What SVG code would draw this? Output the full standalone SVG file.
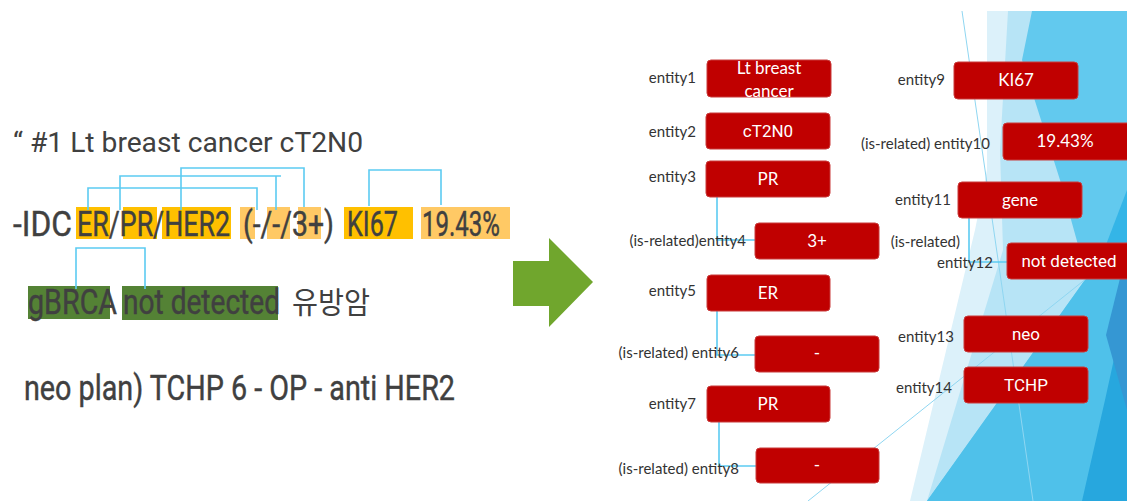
<svg xmlns="http://www.w3.org/2000/svg" width="1127" height="501" viewBox="0 0 1127 501">
  <defs>
    <style>
      .note { font-family: Roboto, "Liberation Sans", sans-serif; fill: #404040; }
      .big { font-size: 36px; stroke: #404040; stroke-width: 0.45; }
      .kr { font-family: "Noto Sans CJK KR", sans-serif; font-size: 30px; fill: #404040; }
      .hl-gold { fill: #ffc000; }
      .hl-pale { fill: #ffc965; }
      .hl-green { fill: #548235; }
      .brk { fill: none; stroke: #5ccbf2; stroke-width: 1.6; }
      .box { fill: #c00000; stroke: #c93a3a; stroke-width: 1; }
      .btxt { font-family: Lato, "Liberation Sans", sans-serif; font-size: 17px; fill: #ffffff; text-anchor: middle; }
      .btxt2 { font-family: Roboto, "Liberation Sans", sans-serif; font-size: 17px; fill: #ffffff; text-anchor: middle; }
      .lbl { font-family: Lato, "Liberation Sans", sans-serif; font-size: 15px; fill: #333333; text-anchor: end; }
      .conn { fill: none; stroke: #5ccbf2; stroke-width: 1.6; }
      .facet-line { fill: none; stroke: #8fd6f1; stroke-width: 1; }
    </style>
  </defs>

  <rect x="0" y="0" width="1127" height="501" fill="#ffffff"/>

  <!-- faceted blue backdrop on the right -->
  <g id="backdrop">
    <polygon points="987,11 1127,11 1127,501 910,501 975,230 987,170" fill="#dcf1fa"/>
    <polygon points="1008,11 1127,11 1127,501 927,501 1003,250 1000,150" fill="#b7e4f6"/>
    <polygon points="1032,11 1127,11 1127,501 927,501 1087,277 1060,180 1022,60" fill="#62c9ee"/>
    <polygon points="1127,221 1127,501 927,501 1087,277" fill="#4fc1ea"/>
    <polygon points="1127,190 1127,262 1104,250" fill="#34b5e7"/>
    <polygon points="1127,300 1127,501 1082,501 1105,400" fill="#27a7de"/>
    <polygon points="1127,250 1127,410 1106,335" fill="#3597d3"/>
    <line class="facet-line" x1="962" y1="11" x2="1033" y2="501"/>
    <line class="facet-line" x1="808" y1="501" x2="1087" y2="278"/>
  </g>

  <!-- clinical note text with highlighted spans -->
  <g id="note">
    <text class="note" x="13" y="152" font-size="28" textLength="350" lengthAdjust="spacingAndGlyphs">“ #1 Lt breast cancer cT2N0</text>

    <rect class="hl-gold" x="76" y="207" width="34" height="32"/>
    <rect class="hl-gold" x="123" y="207" width="34" height="32"/>
    <rect class="hl-gold" x="162" y="207" width="69" height="32"/>
    <rect class="hl-pale" x="240" y="207" width="15" height="32"/>
    <rect class="hl-pale" x="267" y="207" width="23" height="32"/>
    <rect class="hl-pale" x="298" y="207" width="23" height="32"/>
    <rect class="hl-gold" x="344" y="207" width="69" height="32"/>
    <rect class="hl-pale" x="421" y="207" width="89" height="32"/>

    <rect class="hl-green" x="28" y="286" width="82" height="33"/>
    <rect class="hl-green" x="122" y="286" width="156" height="34"/>

    <!-- narrow-set body lines -->
    <g transform="scale(0.8,1)">
      <text class="note big" y="236">
        <tspan x="16.25" textLength="73.75" lengthAdjust="spacingAndGlyphs">-IDC</tspan>
        <tspan x="96.25" textLength="191.25" lengthAdjust="spacingAndGlyphs">ER/PR/HER2</tspan>
        <tspan x="303.75" textLength="113.75" lengthAdjust="spacingAndGlyphs">(-/-/3+)</tspan>
        <tspan x="433.75" textLength="63.75" lengthAdjust="spacingAndGlyphs">KI67</tspan>
        <tspan x="527.5" textLength="97.5" lengthAdjust="spacingAndGlyphs">19.43%</tspan>
      </text>
      <text class="note big" y="314">
        <tspan x="35" textLength="111.25" lengthAdjust="spacingAndGlyphs">gBRCA</tspan>
        <tspan x="153.75" textLength="196.25" lengthAdjust="spacingAndGlyphs">not detected</tspan>
      </text>
      <text class="note big" x="30" y="400" textLength="538.75" lengthAdjust="spacingAndGlyphs">neo plan) TCHP 6 - OP - anti HER2</text>
    </g>
    <text class="kr" x="292" y="313" textLength="78" lengthAdjust="spacingAndGlyphs">유방암</text>

    <!-- relation brackets over the note -->
    <path class="brk" d="M88,210 V188 H257 V210"/>
    <path class="brk" d="M120,210 V176 H281 M276,176 V210"/>
    <path class="brk" d="M181,210 V168 H304 V207"/>
    <path class="brk" d="M369,206 V170 H441 V205"/>
    <path class="brk" d="M76,289 V248 H145 V289"/>
  </g>

  <!-- conversion arrow -->
  <polygon id="arrow" points="513,261 549,261 549,238 593,282 549,327 549,306 513,306" fill="#70a62d"/>

  <!-- connectors -->
  <g id="connectors">
    <path class="conn" d="M717,197 V240 H755"/>
    <path class="conn" d="M717,311 V355 H755"/>
    <path class="conn" d="M719,422 V466 H756"/>
    <path class="conn" d="M969,218 V262 H1007"/>
  </g>

  <!-- entity nodes -->
  <g id="entity1">
    <text class="lbl" x="696" y="83">entity1</text>
    <rect class="box" x="707" y="60" width="124" height="37" rx="4"/>
    <text class="btxt" x="769" y="74">Lt breast</text>
    <text class="btxt" x="769" y="97">cancer</text>
  </g>
  <g id="entity2">
    <text class="lbl" x="696" y="137">entity2</text>
    <rect class="box" x="706" y="113" width="124" height="36" rx="4"/>
    <text class="btxt2" x="768" y="137">cT2N0</text>
  </g>
  <g id="entity3">
    <text class="lbl" x="696" y="182">entity3</text>
    <rect class="box" x="706" y="161" width="124" height="36" rx="4"/>
    <text class="btxt" x="768" y="185">PR</text>
  </g>
  <g id="entity4">
    <text class="lbl" x="746" y="246">(is-related)entity4</text>
    <rect class="box" x="755" y="223" width="124" height="36" rx="4"/>
    <text class="btxt" x="817" y="247">3+</text>
  </g>
  <g id="entity5">
    <text class="lbl" x="696" y="296">entity5</text>
    <rect class="box" x="707" y="275" width="123" height="36" rx="4"/>
    <text class="btxt" x="768" y="299">ER</text>
  </g>
  <g id="entity6">
    <text class="lbl" x="739" y="358">(is-related) entity6</text>
    <rect class="box" x="755" y="336" width="124" height="36" rx="4"/>
    <text class="btxt" x="817" y="359">-</text>
  </g>
  <g id="entity7">
    <text class="lbl" x="696" y="409">entity7</text>
    <rect class="box" x="707" y="386" width="123" height="36" rx="4"/>
    <text class="btxt" x="768" y="410">PR</text>
  </g>
  <g id="entity8">
    <text class="lbl" x="739" y="474">(is-related)  entity8</text>
    <rect class="box" x="756" y="448" width="123" height="35" rx="4"/>
    <text class="btxt" x="817" y="471">-</text>
  </g>
  <g id="entity9">
    <text class="lbl" x="945" y="85">entity9</text>
    <rect class="box" x="954" y="62" width="124" height="37" rx="4"/>
    <text class="btxt" x="1016" y="86">KI67</text>
  </g>
  <g id="entity10">
    <text class="lbl" x="990" y="149">(is-related) entity10</text>
    <rect class="box" x="1003" y="123" width="128" height="37" rx="4"/>
    <text class="btxt" x="1065" y="147">19.43%</text>
  </g>
  <g id="entity11">
    <text class="lbl" x="951" y="205">entity11</text>
    <rect class="box" x="958" y="182" width="124" height="36" rx="4"/>
    <text class="btxt" x="1020" y="206">gene</text>
  </g>
  <g id="entity12">
    <text class="lbl" x="960" y="247">(is-related)</text>
    <text class="lbl" x="993" y="268">entity12</text>
    <rect class="box" x="1007" y="243" width="124" height="36" rx="4"/>
    <text class="btxt2" x="1069" y="267">not detected</text>
  </g>
  <g id="entity13">
    <text class="lbl" x="954" y="342">entity13</text>
    <rect class="box" x="964" y="316" width="124" height="36" rx="4"/>
    <text class="btxt2" x="1026" y="340">neo</text>
  </g>
  <g id="entity14">
    <text class="lbl" x="952" y="393">entity14</text>
    <rect class="box" x="964" y="367" width="124" height="36" rx="4"/>
    <text class="btxt2" x="1026" y="391">TCHP</text>
  </g>
</svg>
